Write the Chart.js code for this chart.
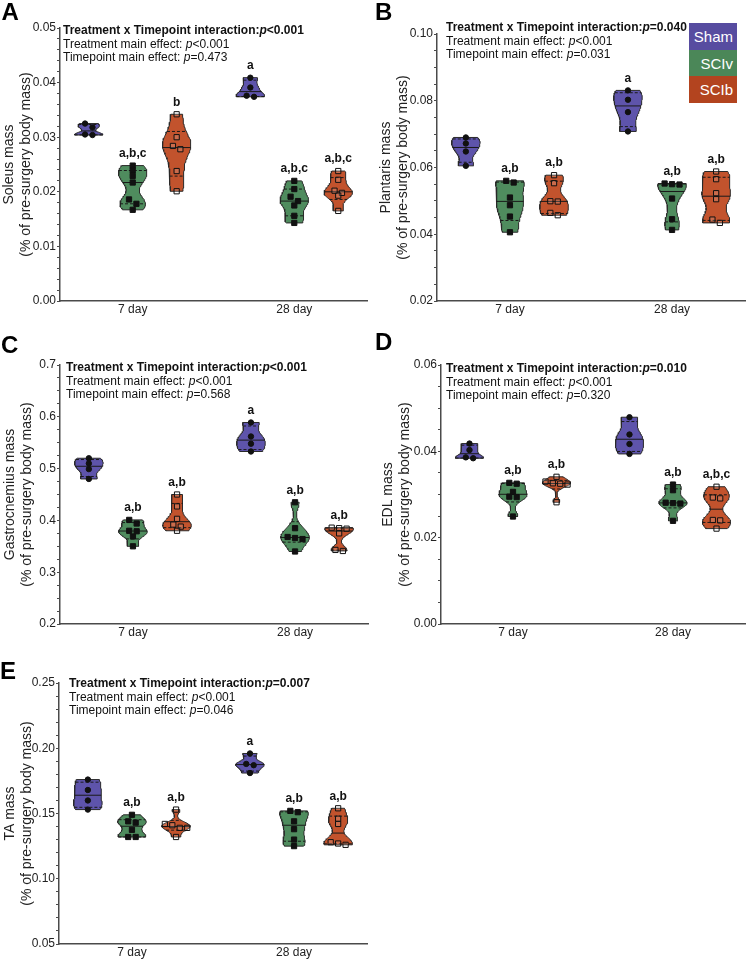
<!DOCTYPE html>
<html>
<head>
<meta charset="utf-8">
<script src="https://cdn.jsdelivr.net/npm/chart.js@4.4.1/dist/chart.umd.min.js"></script>
<style>
  body { margin: 0; background: #fff; width: 750px; height: 959px; position: relative; overflow: hidden;
         font-family: "Liberation Sans", Arial, sans-serif; color: #111; }
  .panel { position: absolute; }
  .letter { position: absolute; font-weight: bold; font-size: 24px; line-height: 1; color: #000; }
  .stats { position: absolute; font-size: 12px; line-height: 13.5px; white-space: nowrap; color: #111; }
  .legend { position: absolute; left: 689px; top: 23px; width: 48px; }
  .legend div { height: 26.5px; line-height: 27px; color: #fff; font-size: 15px; text-align: right; padding-right: 4px; }
</style>
</head>
<body>
<script>
const timepoints = ['7 day', '28 day'];
const groups = ['Sham', 'SCIv', 'SCIb'];

// A - Soleus  (each array: [7 day values, 28 day values])
const soleusSham = [[0.0325, 0.0318, 0.0305, 0.0304], [0.0409, 0.0391, 0.0376, 0.0374]];
const soleusSCIv = [[0.0248, 0.0239, 0.0229, 0.0217, 0.0186, 0.0178, 0.0167], [0.0220, 0.0205, 0.0191, 0.0183, 0.0175, 0.0156, 0.0143]];
const soleusSCIb = [[0.0342, 0.0300, 0.0284, 0.0278, 0.0238, 0.0201], [0.0238, 0.0222, 0.0202, 0.0198, 0.0193, 0.0165]];
const soleusLetters = [['', 'a,b,c', 'b'], ['a', 'a,b,c', 'a,b,c']];
const soleusP = ['<0.001', '<0.001', '=0.473'];

// B - Plantaris
const plantarisSham = [[0.0690, 0.0672, 0.0648, 0.0605], [0.0831, 0.0803, 0.0766, 0.0708]];
const plantarisSCIv = [[0.0560, 0.0555, 0.0510, 0.0487, 0.0453, 0.0406], [0.0552, 0.0550, 0.0549, 0.0507, 0.0445, 0.0413]];
const plantarisSCIb = [[0.0577, 0.0553, 0.0499, 0.0498, 0.0464, 0.0457], [0.0588, 0.0565, 0.0523, 0.0505, 0.0444, 0.0434]];
const plantarisLetters = [['', 'a,b', 'a,b'], ['a', 'a,b', 'a,b']];
const plantarisP = ['=0.040', '<0.001', '=0.031'];

// C - Gastrocnemius
const gastrocSham = [[0.520, 0.510, 0.499, 0.480], [0.589, 0.562, 0.548, 0.533]];
const gastrocSCIv = [[0.401, 0.394, 0.380, 0.379, 0.369, 0.350], [0.435, 0.385, 0.368, 0.366, 0.364, 0.340]];
const gastrocSCIb = [[0.450, 0.427, 0.403, 0.392, 0.388, 0.380], [0.386, 0.385, 0.384, 0.375, 0.343, 0.341]];
const gastrocLetters = [['', 'a,b', 'a,b'], ['a', 'a,b', 'a,b']];
const gastrocP = ['<0.001', '<0.001', '=0.568'];

// D - EDL
const edlSham = [[0.0418, 0.0403, 0.0386, 0.0384], [0.0479, 0.0439, 0.0417, 0.0394]];
const edlSCIv = [[0.0327, 0.0325, 0.0306, 0.0295, 0.0294, 0.0249], [0.0323, 0.0310, 0.0281, 0.0280, 0.0279, 0.0239]];
const edlSCIb = [[0.0341, 0.0330, 0.0326, 0.0325, 0.0323, 0.0282], [0.0318, 0.0293, 0.0291, 0.0241, 0.0240, 0.0221]];
const edlLetters = [['', 'a,b', 'a,b'], ['', 'a,b', 'a,b,c']];
const edlP = ['=0.010', '<0.001', '=0.320'];

// E - TA
const taSham = [[0.176, 0.168, 0.160, 0.153], [0.196, 0.188, 0.187, 0.181]];
const taSCIv = [[0.149, 0.144, 0.143, 0.1375, 0.132, 0.132], [0.152, 0.151, 0.144, 0.138, 0.130, 0.125]];
const taSCIb = [[0.153, 0.142, 0.141, 0.139, 0.139, 0.132], [0.154, 0.146, 0.142, 0.128, 0.127, 0.126]];
const taLetters = [['', 'a,b', 'a,b'], ['a', 'a,b', 'a,b']];
const taP = ['=0.007', '<0.001', '=0.046'];

const violinColors = ['#5E54AB', '#4F8C5E', '#C2532D'];
const legendColors = ['#574CA0', '#4B8758', '#B3441F'];
const pointStyles = ['circle', 'rect', 'rect'];
const pointRadii = [2.7, 3.7, 3.7];
const pointFills = ['#111', '#111', 'rgba(255,255,255,0.15)'];
const spread = 0.272;   // offset of groups inside a timepoint (x units)
const halfW = 0.088;    // max half-width of a violin (x units)
const jitterStep = 0.046;

const panels = [
  { letter: 'A', title: ['Soleus mass', '(% of pre-surgery body mass)'], data: [soleusSham, soleusSCIv, soleusSCIb],
    letters: soleusLetters, p: soleusP, min: 0, max: 0.05, major: 0.01, minor: 0.002, dec: 2,
    left: 0, top: 0, h: 325, pad: { top: 28, right: 8, bottom: 2, left: 0 }, yW: 60, xH: 22, tPad: 0.5,
    letterPos: [1.5, 0], statsPos: [63, 24] },
  { letter: 'B', title: ['Plantaris mass', '(% of pre-surgery body mass)'], data: [plantarisSham, plantarisSCIv, plantarisSCIb],
    letters: plantarisLetters, p: plantarisP, min: 0.02, max: 0.10, major: 0.02, minor: 0.005, dec: 2,
    left: 375, top: 0, h: 325, pad: { top: 34, right: 5, bottom: 2, left: 0 }, yW: 62, xH: 22, tPad: 3,
    letterPos: [375, 0], statsPos: [446, 21] },
  { letter: 'C', title: ['Gastrocnemius mass', '(% of pre-surgery body mass)'], data: [gastrocSham, gastrocSCIv, gastrocSCIb],
    letters: gastrocLetters, p: gastrocP, min: 0.2, max: 0.7, major: 0.1, minor: 0.025, dec: 1,
    left: 0, top: 325, h: 323, pad: { top: 40, right: 7, bottom: 2, left: 0 }, yW: 60, xH: 22, tPad: 1.5,
    letterPos: [1, 333], statsPos: [66, 361] },
  { letter: 'D', title: ['EDL mass', '(% of pre-surgery body mass)'], data: [edlSham, edlSCIv, edlSCIb],
    letters: edlLetters, p: edlP, min: 0, max: 0.06, major: 0.02, minor: 0.005, dec: 2,
    left: 375, top: 325, h: 323, pad: { top: 40, right: 3, bottom: 2, left: 0 }, yW: 66, xH: 22, tPad: 4.5,
    letterPos: [375, 330], statsPos: [446, 362] },
  { letter: 'E', title: ['TA mass', '(% of pre-surgery body mass)'], data: [taSham, taSCIv, taSCIb],
    letters: taLetters, p: taP, min: 0.05, max: 0.25, major: 0.05, minor: 0.01, dec: 2,
    left: 0, top: 650, h: 309, pad: { top: 33, right: 8, bottom: 0, left: 0 }, yW: 59, xH: 15, tPad: 1.5,
    letterPos: [0, 659], statsPos: [69, 677] }
];

function bandwidth(vals) {
  const n = vals.length;
  const mean = vals.reduce((a, b) => a + b, 0) / n;
  const sd = Math.sqrt(vals.reduce((a, b) => a + (b - mean) ** 2, 0) / (n - 1));
  return 0.6 * sd * Math.pow(n, -0.2);
}

function density(vals, h, y) {
  let d = 0;
  vals.forEach(v => { d += Math.exp(-0.5 * ((y - v) / h) ** 2); });
  return d;
}

function quantile(sorted, p) {
  const n = sorted.length;
  let pos = (n + 1) * p - 1;
  pos = Math.max(0, Math.min(n - 1, pos));
  const lo = Math.floor(pos), hi = Math.ceil(pos);
  return sorted[lo] + (sorted[hi] - sorted[lo]) * (pos - lo);
}

// violin outline + quartile lines for one group
function violin(vals, center) {
  const h = bandwidth(vals);
  const lo = Math.min(...vals), hi = Math.max(...vals);
  const steps = 48;
  const prof = [];
  for (let i = 0; i <= steps; i++) {
    const y = lo + (hi - lo) * i / steps;
    prof.push({ y: y, d: density(vals, h, y) });
  }
  const dmax = Math.max(...prof.map(p => p.d));
  const right = prof.map(p => ({ x: center + halfW * p.d / dmax, y: p.y }));
  const left = prof.slice().reverse().map(p => ({ x: center - halfW * p.d / dmax, y: p.y }));
  const sorted = vals.slice().sort((a, b) => a - b);
  const lines = [0.25, 0.5, 0.75].map(q => {
    const yq = quantile(sorted, q);
    const w = halfW * density(vals, h, yq) / dmax;
    return { dashed: q !== 0.5, pts: [{ x: center - w, y: yq }, { x: center + w, y: yq }] };
  });
  return { outline: right.concat(left, [right[0]]), lines: lines };
}

// spread near-equal values sideways
function jitter(vals, center, pxPerY) {
  const sorted = vals.slice().sort((a, b) => b - a);
  const out = [];
  let i = 0;
  while (i < sorted.length) {
    let j = i + 1;
    while (j < sorted.length && (sorted[i] - sorted[j]) * pxPerY < 4.5) j++;
    const k = j - i;
    for (let m = 0; m < k; m++) out.push({ x: center + (m - (k - 1) / 2) * jitterStep, y: sorted[i + m] });
    i = j;
  }
  return out;
}

function esc(s) { return s.replace(/</g, '&lt;'); }

function buildPanel(P) {
  const wrap = document.createElement('div');
  wrap.className = 'panel';
  wrap.style.left = P.left + 'px';
  wrap.style.top = P.top + 'px';
  const canvas = document.createElement('canvas');
  canvas.width = 375;
  canvas.height = P.h;
  canvas.style.width = '375px';
  canvas.style.height = P.h + 'px';
  wrap.appendChild(canvas);
  document.body.appendChild(wrap);

  const letter = document.createElement('div');
  letter.className = 'letter';
  letter.style.left = P.letterPos[0] + 'px';
  letter.style.top = P.letterPos[1] + 'px';
  letter.textContent = P.letter;
  document.body.appendChild(letter);

  const stats = document.createElement('div');
  stats.className = 'stats';
  stats.style.left = P.statsPos[0] + 'px';
  stats.style.top = P.statsPos[1] + 'px';
  stats.innerHTML = '<b>Treatment x Timepoint interaction:<i>p</i>' + esc(P.p[0]) + '</b><br>' +
    'Treatment main effect: <i>p</i>' + esc(P.p[1]) + '<br>' +
    'Timepoint main effect: <i>p</i>' + esc(P.p[2]);
  document.body.appendChild(stats);

  const plotH = P.h - P.pad.top - P.pad.bottom - P.xH;
  const pxPerY = plotH / (P.max - P.min);
  const datasets = [];
  const labels = [];

  for (let t = 0; t < 2; t++) {
    for (let g = 0; g < 3; g++) {
      const vals = P.data[g][t];
      const center = 1 + t + (g - 1) * spread;
      const v = violin(vals, center);
      datasets.push({
        type: 'line', data: v.outline, backgroundColor: violinColors[g], fill: 'shape',
        borderColor: '#2a2a2a', borderWidth: 1, pointRadius: 0, tension: 0, order: 3
      });
      v.lines.forEach(l => {
        datasets.push({
          type: 'line', data: l.pts, borderColor: '#1a1a1a', borderWidth: 1, borderDash: l.dashed ? [3, 2] : [],
          fill: false, pointRadius: 0, order: 2
        });
      });
      datasets.push({
        type: 'scatter', data: jitter(vals, center, pxPerY), pointStyle: pointStyles[g],
        pointRadius: pointRadii[g], pointBackgroundColor: pointFills[g], pointBorderColor: '#111',
        pointBorderWidth: 1, showLine: false, order: 1
      });
      labels.push({ x: center, top: Math.max(...vals), text: P.letters[t][g] });
    }
  }

  const letterPlugin = {
    id: 'sigLetters',
    afterDatasetsDraw(chart) {
      const { ctx, scales: { x, y } } = chart;
      ctx.save();
      ctx.font = 'bold 12px "Liberation Sans", Arial, sans-serif';
      ctx.fillStyle = '#111';
      ctx.textAlign = 'center';
      ctx.textBaseline = 'middle';
      labels.forEach(l => {
        if (!l.text) return;
        ctx.fillText(l.text, x.getPixelForValue(l.x), y.getPixelForValue(l.top) - 12);
      });
      ctx.restore();
    }
  };

  new Chart(canvas, {
    type: 'scatter',
    data: { datasets: datasets },
    plugins: [letterPlugin],
    options: {
      responsive: false,
      animation: false,
      events: [],
      devicePixelRatio: 1,
      layout: { padding: P.pad },
      plugins: { legend: { display: false }, tooltip: { enabled: false } },
      scales: {
        x: {
          type: 'linear', min: 0.55, max: 2.45,
          grid: { display: false, drawTicks: false },
          border: { display: true, color: '#4a4a4a', width: 1.5 },
          afterBuildTicks: s => { s.ticks = [{ value: 1 }, { value: 2 }]; },
          afterFit: s => { s.height = P.xH; },
          ticks: {
            autoSkip: false, maxRotation: 0, padding: 1, color: '#222',
            font: { family: '"Liberation Sans", Arial, sans-serif', size: 12 },
            callback: v => timepoints[Math.round(v) - 1]
          }
        },
        y: {
          type: 'linear', min: P.min, max: P.max,
          grid: { display: true, drawOnChartArea: false, drawTicks: true, tickLength: 3, tickColor: '#4a4a4a', tickWidth: 1 },
          border: { display: true, color: '#4a4a4a', width: 1.5 },
          afterFit: s => { s.width = P.yW; },
          ticks: {
            stepSize: P.minor, autoSkip: false, padding: 1, color: '#222',
            font: { family: '"Liberation Sans", Arial, sans-serif', size: 12 },
            callback: v => {
              const r = v / P.major;
              return Math.abs(r - Math.round(r)) < 1e-6 ? v.toFixed(P.dec) : '';
            }
          },
          title: {
            display: true, text: P.title, color: '#222',
            font: { family: '"Liberation Sans", Arial, sans-serif', size: 14, lineHeight: 1.2 },
            padding: { top: P.tPad, bottom: 0 }
          }
        }
      }
    }
  });
}

panels.forEach(buildPanel);

const legend = document.createElement('div');
legend.className = 'legend';
groups.forEach((g, i) => {
  const row = document.createElement('div');
  row.style.background = legendColors[i];
  row.textContent = g;
  legend.appendChild(row);
});
document.body.appendChild(legend);
</script>
</body>
</html>
